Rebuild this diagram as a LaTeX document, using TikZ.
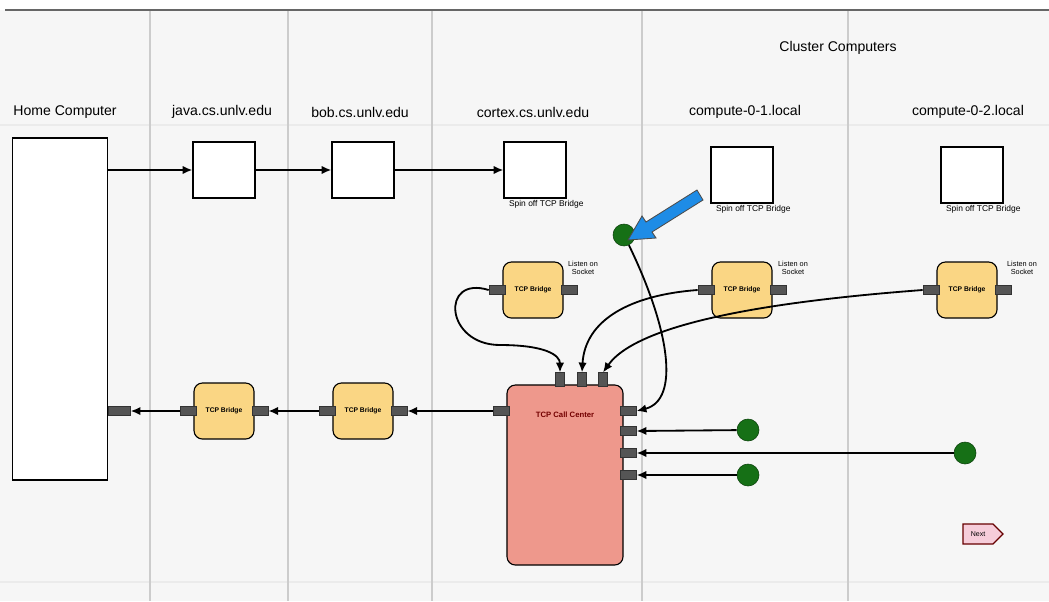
\documentclass[tikz,border=0pt]{standalone}
\usepackage{fontspec}
\setmainfont{Liberation Sans}
\usetikzlibrary{positioning,calc}
\usetikzlibrary{arrows.meta,shapes.symbols}
\definecolor{BridgeYellow}{RGB}{250,214,132}
\definecolor{CallRed}{RGB}{238,152,140}
\definecolor{PortGray}{RGB}{85,85,85}
\definecolor{DotGreen}{RGB}{22,112,22}
\definecolor{PointBlue}{RGB}{30,140,230}
\definecolor{PageGray}{RGB}{246,246,246}
\definecolor{TagPink}{RGB}{246,205,218}
\tikzset{
  host/.style={draw=black,fill=white,line width=0.8pt,minimum width=1.55cm,minimum height=1.4cm},
  bridge/.style={draw=black,fill=BridgeYellow,line width=0.8pt,rounded corners=6pt,
    minimum width=1.5cm,minimum height=1.4cm,font=\fontsize{4.8}{5}\selectfont\bfseries},
  callc/.style={draw=black,fill=CallRed,line width=0.8pt,rounded corners=6pt,minimum width=2.9cm,minimum height=4.5cm},
  port/.style={draw=black!80,fill=PortGray,inner sep=0pt,minimum width=0.4cm,minimum height=0.22cm},
  vport/.style={port,minimum width=0.22cm,minimum height=0.35cm},
  link/.style={draw=black,line width=1.3pt,-{Latex[length=7pt,width=6pt]}},
  head/.style={font=\fontsize{10}{12}\selectfont},
  tiny/.style={font=\fontsize{5.2}{5.8}\selectfont,align=center,inner sep=1pt},
  spin/.style={font=\fontsize{6}{7}\selectfont,inner sep=1pt,xshift=8pt},
}
\tikzset{dot/.style={circle,draw=DotGreen!60!black,fill=DotGreen,minimum size=0.55cm,inner sep=0pt},
  nexttag/.style={signal,signal to=east,draw=red!40!black,fill=TagPink,line width=0.8pt,
    font=\fontsize{5}{5.5}\selectfont,minimum width=1cm,minimum height=0.5cm,inner sep=1pt}}

\begin{document}
\begin{tikzpicture}[x=0.025cm,y=-0.025cm]
\useasboundingbox (0,0) rectangle (1049,601);
% page
\fill[PageGray] (0,10) rectangle (1049,601);
\draw[black!8,line width=2pt] (0,125) -- (1049,125);
\draw[black!8,line width=2pt] (0,582) -- (1049,582);
\foreach \cx in {150,288,432,642,848}
  \draw[black!20,line width=1.5pt] (\cx,10) -- (\cx,601);
\draw[black!60,line width=1.2pt] (5,10) -- (1049,10);
% column heads
\node[head] (hHome) at (65,112) {Home Computer};
\node[head] (hJava) at (222,112) {java.cs.unlv.edu};
\node[head] (hBob) at (360,112) {bob.cs.unlv.edu};
\node[head] (hCortex) at (533,112) {cortex.cs.unlv.edu};
\node[head] (hC1) at (745,112) {compute-0-1.local};
\node[head] (hC2) at (968,112) {compute-0-2.local};
\node[head] (hCluster) at (838,48) {Cluster Computers};
% machines
\node[host,minimum width=2.375cm,minimum height=8.55cm] (home) at (60,309) {};
\node[host] (java) at (224,170) {};
\node[host] (bob) at (363,170) {};
\node[host,label={[spin]below:Spin off TCP Bridge}] (cortex) at (535,170) {};
\node[host,label={[spin]below:Spin off TCP Bridge}] (cone) at (742,175) {};
\node[host,label={[spin]below:Spin off TCP Bridge}] (ctwo) at (972,175) {};
\draw[link] (home.east |- java.west) -- (java.west);
\draw[link] (java.east) -- (bob.west);
\draw[link] (bob.east) -- (cortex.west);
% bridges, top row
\node[bridge] (brA) at (533,290) {TCP Bridge};
\node[bridge] (brB) at (742,290) {TCP Bridge};
\node[bridge] (brC) at (967,290) {TCP Bridge};
\foreach \b in {brA,brB,brC} {
  \node[port,left=-2pt of \b] (\b l) {};
  \node[port,right=-2pt of \b] (\b r) {};
}
\node[tiny] (noteA) at (583,268) {Listen on\\Socket};
\node[tiny] (noteB) at (793,268) {Listen on\\Socket};
\node[tiny] (noteC) at (1022,268) {Listen on\\Socket};
% bridges, bottom row
\node[bridge] (brJ) at (224,411) {TCP Bridge};
\node[bridge] (brK) at (363,411) {TCP Bridge};
\foreach \b in {brJ,brK} {
  \node[port,left=-2pt of \b] (\b l) {};
  \node[port,right=-2pt of \b] (\b r) {};
}
\node[port,minimum width=0.55cm,anchor=west] (hport) at (home.east |- brJ) {};
% call center
\node[callc,label={[anchor=north,yshift=-0.55cm,text=red!45!black,font=\fontsize{5.5}{6}\selectfont\bfseries]north:TCP Call Center}] (cc) at (565,475) {};
\node[port,left=-2pt of cc.west |- brK] (ccl) {};
\node[vport,anchor=south] (cct1) at (560,387) {};
\node[vport,anchor=south] (cct2) at (582,387) {};
\node[vport,anchor=south] (cct3) at (603,387) {};
\node[port,anchor=west] (ccr1) at (620,411) {};
\node[port,anchor=west] (ccr2) at (620,431) {};
\node[port,anchor=west] (ccr3) at (620,453) {};
\node[port,anchor=west] (ccr4) at (620,475) {};
% return path
\draw[link] (ccl) -- (brKr);
\draw[link] (brKl) -- (brJr);
\draw[link] (brJl) -- (hport);
% listening bridges into the call center
\draw[link] (brAl.west) .. controls (440,275) and (445,345) .. (500,345) .. controls (545,345) and (560,355) .. (cct1.north);
\draw[link] (brBl.west) .. controls (630,295) and (585,320) .. (cct2.north);
\draw[link] (brCl.west) .. controls (790,300) and (640,320) .. (cct3.north);
% clients
\node[dot] (gtop) at (624,235) {};
\node[dot] (gA) at (748,430) {};
\node[dot] (gB) at (965,453) {};
\node[dot] (gC) at (748,475) {};
\draw[link] (gtop) .. controls (670,330) and (680,400) .. (ccr1.east);
\draw[link] (gA) -- (ccr2.east);
\draw[link] (gB) -- (ccr3.east);
\draw[link] (gC) -- (ccr4.east);
% pointer
\filldraw[fill=PointBlue,draw=black!70,line width=0.6pt]
  (703,200) -- (652,232) -- (656,238) -- (628,240) -- (642,216) -- (646,222) -- (697,190) -- cycle;
\node[nexttag] (next) at (978,534) {Next};
\end{tikzpicture}
\end{document}
